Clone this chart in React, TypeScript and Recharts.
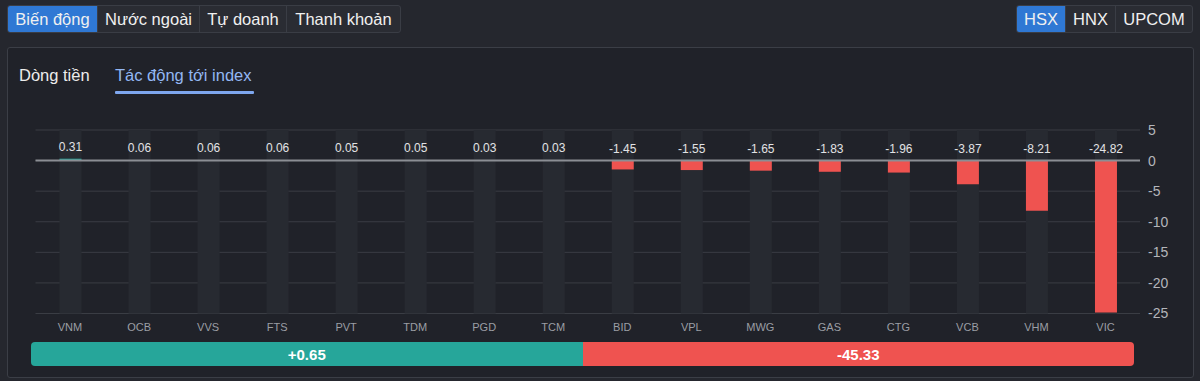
import React from "react";
import {
  BarChart,
  Bar,
  XAxis,
  YAxis,
  CartesianGrid,
  ReferenceLine,
  LabelList,
  Cell,
} from "recharts";

const tickers = ["VNM", "OCB", "VVS", "FTS", "PVT", "TDM", "PGD", "TCM", "BID", "VPL", "MWG", "GAS", "CTG", "VCB", "VHM", "VIC"];
const impacts = [0.31, 0.06, 0.06, 0.06, 0.05, 0.05, 0.03, 0.03, -1.45, -1.55, -1.65, -1.83, -1.96, -3.87, -8.21, -24.82];
const yTicks = [5, 0, -5, -10, -15, -20, -25];
const totals = ["+0.65", "-45.33"];
const mainTabs = ["Biến động", "Nước ngoài", "Tự doanh", "Thanh khoản"];
const exchangeTabs = ["HSX", "HNX", "UPCOM"];
const subTabs = ["Dòng tiền", "Tác động tới index"];

const data = tickers.map((t, i) => ({ name: t, value: impacts[i] }));

const FONT = 'Arial, "Liberation Sans", Helvetica, sans-serif';
const UP = "#26a69a";
const DOWN = "#ef5350";
const BLUE = "#2f78d4";

const ValueLabel = (props: any) => {
  const { x, y, width, height, value } = props;
  const top = Math.min(y, y + height);
  return (
    <text
      x={x + width / 2}
      y={top - 8}
      textAnchor="middle"
      fill="#e2e3e5"
      fontSize={12}
      fontFamily={FONT}
    >
      {Number(value).toFixed(2)}
    </text>
  );
};

const tabBase: React.CSSProperties = {
  height: 26,
  boxSizing: "border-box",
  display: "flex",
  alignItems: "center",
  justifyContent: "center",
  fontSize: 16.5,
  color: "#f0f0f0",
};

const mainWidths = [90, 102, 87, 113];
const exWidths = [49, 50, 76];

export default function App() {
  return (
    <div
      style={{
        position: "fixed",
        left: 0,
        top: 0,
        width: 1200,
        height: 381,
        background: "#25272e",
        fontFamily: FONT,
        overflow: "hidden",
      }}
    >
      {/* main tabs */}
      <div
        style={{
          position: "absolute",
          left: 7,
          top: 5,
          display: "flex",
          border: "1px solid #3a3d45",
          borderRadius: 3,
          overflow: "hidden",
          background: "#2a2c33",
        }}
      >
        {mainTabs.map((t, i) => (
          <div
            key={t}
            style={{
              ...tabBase,
              width: mainWidths[i],
              background: i === 0 ? BLUE : "transparent",
              borderRight: i === mainTabs.length - 1 ? "none" : "1px solid #3a3d45",
            }}
          >
            {t}
          </div>
        ))}
      </div>

      {/* exchange tabs */}
      <div
        style={{
          position: "absolute",
          left: 1016,
          top: 5,
          display: "flex",
          border: "1px solid #3a3d45",
          borderRadius: 3,
          overflow: "hidden",
          background: "#2a2c33",
        }}
      >
        {exchangeTabs.map((t, i) => (
          <div
            key={t}
            style={{
              ...tabBase,
              width: exWidths[i],
              background: i === 0 ? BLUE : "transparent",
              borderRight: i === exchangeTabs.length - 1 ? "none" : "1px solid #3a3d45",
            }}
          >
            {t}
          </div>
        ))}
      </div>

      {/* panel */}
      <div
        style={{
          position: "absolute",
          left: 7,
          top: 47,
          width: 1187,
          height: 331,
          boxSizing: "border-box",
          border: "1px solid #3b3e46",
          borderRadius: 3,
          background: "#202229",
        }}
      />

      {/* sub tabs */}
      <div style={{ position: "absolute", left: 19, top: 66, fontSize: 16.5, color: "#ececec" }}>
        {subTabs[0]}
      </div>
      <div style={{ position: "absolute", left: 115, top: 66, fontSize: 16.5, color: "#93b7f3" }}>
        {subTabs[1]}
      </div>
      <div
        style={{
          position: "absolute",
          left: 115,
          top: 91,
          width: 139,
          height: 3,
          background: "#7ea7ef",
          borderRadius: 1,
        }}
      />

      {/* chart */}
      <div style={{ position: "absolute", left: 0, top: 0 }}>
        <BarChart
          width={1200}
          height={340}
          data={data}
          margin={{ top: 130, right: 10, bottom: 0, left: 35.5 }}
          barSize={22}
        >
          <CartesianGrid horizontal vertical={false} stroke="#3a3d44" />
          <XAxis
            dataKey="name"
            axisLine={false}
            tickLine={false}
            height={26.5}
            tickMargin={4}
            interval={0}
            tick={{ fill: "#9b9ea4", fontSize: 11, fontFamily: FONT }}
          />
          <YAxis
            orientation="right"
            domain={[-25, 5]}
            ticks={yTicks}
            axisLine={false}
            tickLine={false}
            width={50}
            tick={{ fill: "#b4b6bb", fontSize: 14, fontFamily: FONT }}
          />
          <Bar
            dataKey="value"
            isAnimationActive={false}
            background={{ fill: "#272a31" }}
          >
            {data.map((d) => (
              <Cell key={d.name} fill={d.value >= 0 ? UP : DOWN} />
            ))}
            <LabelList dataKey="value" content={ValueLabel} />
          </Bar>
          <ReferenceLine y={0} stroke="#8b8e94" strokeWidth={2} />
        </BarChart>
      </div>

      {/* summary bar */}
      <div
        style={{
          position: "absolute",
          left: 31,
          top: 342,
          width: 1103,
          height: 24,
          display: "flex",
          borderRadius: 4,
          overflow: "hidden",
          fontWeight: "bold",
          fontSize: 15,
          color: "#ffffff",
        }}
      >
        <div style={{ flex: 1, background: UP, display: "flex", alignItems: "center", justifyContent: "center" }}>
          {totals[0]}
        </div>
        <div style={{ flex: 1, background: DOWN, display: "flex", alignItems: "center", justifyContent: "center" }}>
          {totals[1]}
        </div>
      </div>
    </div>
  );
}
